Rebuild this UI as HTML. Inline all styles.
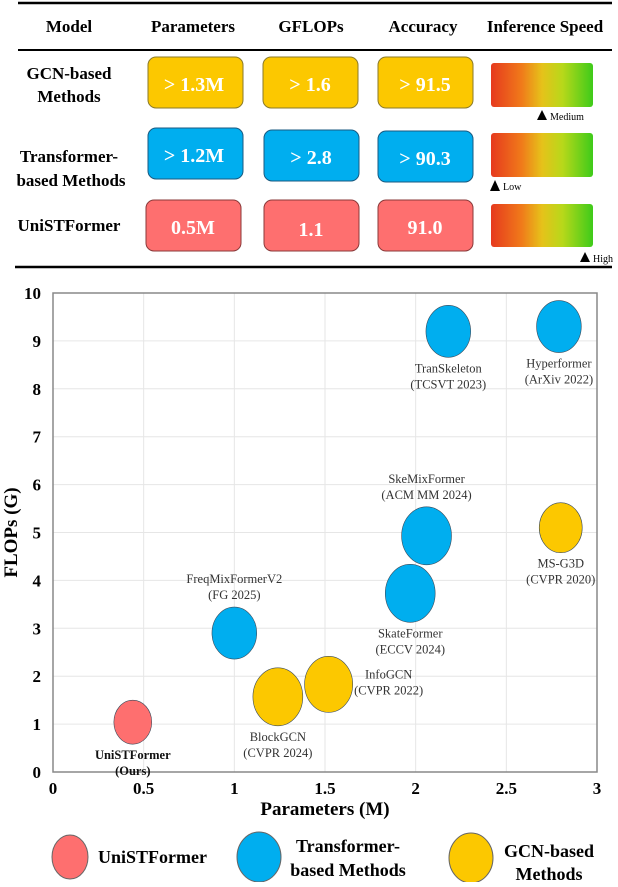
<!DOCTYPE html>
<html><head><meta charset="utf-8"><style>
body{margin:0;background:#fff;}
svg text{font-family:"Liberation Serif",serif;}
</style></head><body>
<svg width="618" height="882" viewBox="0 0 618 882" xmlns="http://www.w3.org/2000/svg">
<defs>
<linearGradient id="sg" x1="0" x2="1" y1="0" y2="0">
<stop offset="0" stop-color="#e63a1e"/><stop offset="0.3" stop-color="#f07a1a"/><stop offset="0.5" stop-color="#e6c21a"/><stop offset="0.7" stop-color="#b8d81a"/><stop offset="1" stop-color="#3ecb1a"/>
</linearGradient>
</defs>
<g>
<line x1="18" y1="3" x2="612" y2="3" stroke="#000" stroke-width="2.5"/>
<line x1="18" y1="50" x2="612" y2="50" stroke="#000" stroke-width="2"/>
<line x1="15" y1="267" x2="612" y2="267" stroke="#000" stroke-width="2.5"/>
<g font-weight="bold" font-size="17" text-anchor="middle">
<text x="69" y="32">Model</text><text x="193" y="32">Parameters</text><text x="311" y="32">GFLOPs</text><text x="423" y="32">Accuracy</text><text x="545" y="32">Inference Speed</text>
</g>
<g font-weight="bold" font-size="17" text-anchor="middle">
<text x="69" y="79">GCN-based</text><text x="69" y="102">Methods</text>
<text x="69" y="162">Transformer-</text><text x="71" y="186">based Methods</text>
<text x="69" y="231">UniSTFormer</text>
</g>
<g font-weight="bold" font-size="20" fill="#fff" text-anchor="middle">
<rect x="148" y="57" width="95" height="51" rx="8" fill="#fcc800" stroke="#8a7a2a"/><text x="194" y="91">&gt; 1.3M</text>
<rect x="263" y="57" width="95" height="51" rx="8" fill="#fcc800" stroke="#8a7a2a"/><text x="310" y="91">&gt; 1.6</text>
<rect x="378" y="57" width="95" height="51" rx="8" fill="#fcc800" stroke="#8a7a2a"/><text x="425" y="91">&gt; 91.5</text>
<rect x="148" y="128" width="95" height="51" rx="8" fill="#00aeef" stroke="#1a5a80"/><text x="194" y="162">&gt; 1.2M</text>
<rect x="264" y="130" width="95" height="51" rx="8" fill="#00aeef" stroke="#1a5a80"/><text x="311" y="164">&gt; 2.8</text>
<rect x="378" y="131" width="95" height="51" rx="8" fill="#00aeef" stroke="#1a5a80"/><text x="425" y="165">&gt; 90.3</text>
<rect x="146" y="200" width="95" height="51" rx="8" fill="#fe6f6f" stroke="#8a3a3a"/><text x="193" y="234">0.5M</text>
<rect x="264" y="200" width="95" height="51" rx="8" fill="#fe6f6f" stroke="#8a3a3a"/><text x="311" y="236">1.1</text>
<rect x="378" y="200" width="95" height="51" rx="8" fill="#fe6f6f" stroke="#8a3a3a"/><text x="425" y="234">91.0</text>
</g>
<g>
<rect x="491" y="63" width="102" height="44" rx="3" fill="url(#sg)"/>
<rect x="491" y="133" width="102" height="44" rx="3" fill="url(#sg)"/>
<rect x="491" y="204" width="102" height="43" rx="3" fill="url(#sg)"/>
<polygon points="542,110 537,120 547,120"/><text x="550" y="120" font-size="10">Medium</text>
<polygon points="495,180 490,191 500,191"/><text x="503" y="190" font-size="10">Low</text>
<polygon points="585,252 580,262 590,262"/><text x="593" y="262" font-size="10">High</text>
</g>
</g>
<g id="chart"></g>
<g font-weight="bold" font-size="18">
<ellipse cx="70" cy="857" rx="18" ry="22" fill="#fe6f6f" stroke="#666"/>
<text x="98" y="863">UniSTFormer</text>
<ellipse cx="259" cy="857" rx="22" ry="25" fill="#00aeef" stroke="#666"/>
<text x="348" y="852" text-anchor="middle">Transformer-<tspan x="348" dy="24">based Methods</tspan></text>
<ellipse cx="471" cy="858" rx="22" ry="25" fill="#fcc800" stroke="#666"/>
<text x="549" y="857" text-anchor="middle">GCN-based<tspan x="549" dy="23">Methods</tspan></text>
</g>
</svg>
<script>
const names=["UniSTFormer","FreqMixFormerV2","BlockGCN","InfoGCN","SkateFormer","SkeMixFormer","TranSkeleton","Hyperformer","MS-G3D"];
const venues=["(Ours)","(FG 2025)","(CVPR 2024)","(CVPR 2022)","(ECCV 2024)","(ACM MM 2024)","(TCSVT 2023)","(ArXiv 2022)","(CVPR 2020)"];
const params=[0.44,1.0,1.24,1.52,1.97,2.06,2.18,2.79,2.80];
const flops=[1.04,2.9,1.57,1.83,3.73,4.93,9.2,9.3,5.1];
const sizes=[22,26,29,28,29,29,26,26,25];
const groups=["ours","tr","gcn","gcn","tr","tr","tr","tr","gcn"];
const xTicks=["0","0.5","1","1.5","2","2.5","3"];
const yTicks=["0","1","2","3","4","5","6","7","8","9","10"];
const X0=53,X1=597,Y0=772,Y1=293;
const xs=v=>X0+v/3*(X1-X0), ys=v=>Y0-v/10*(Y0-Y1);
const colors={ours:"#fe6f6f",tr:"#00aeef",gcn:"#fcc800"};
const labelDx=[0,0,0,60,0,0,0,0,0];
const labelDy=[1,-1,1,-1,1,-1,1,1,1];
const NS="http://www.w3.org/2000/svg";
const g=document.getElementById('chart');
function mk(t,a,p){const e=document.createElementNS(NS,t);for(const k in a)e.setAttribute(k,a[k]);(p||g).appendChild(e);return e;}
yTicks.forEach((t,i)=>{const y=ys(+t);
 const l=mk('line',{x1:X0,x2:X1,y1:y,y2:y,stroke:'#e6e6e6'});
 
 const tx=mk('text',{x:X0-12,y:y+6,'text-anchor':'end','font-size':17,'font-weight':'bold'});tx.textContent=t;
 });
xTicks.forEach((t,i)=>{const x=xs(+t);
 const l=mk('line',{x1:x,x2:x,y1:Y1,y2:Y0,stroke:'#e6e6e6'});
 
 const tx=mk('text',{x:x,y:Y0+22,'text-anchor':'middle','font-size':17,'font-weight':'bold'});tx.textContent=t;
 });
const fr=mk('rect',{x:X0,y:Y1,width:X1-X0,height:Y0-Y1,fill:'none',stroke:'#888','stroke-width':1.5});

const xt=mk('text',{x:(X0+X1)/2,y:Y0+43,'text-anchor':'middle','font-size':19,'font-weight':'bold'});xt.textContent='Parameters (M)';

const yt=mk('text',{x:0,y:0,'text-anchor':'middle','font-size':19,'font-weight':'bold',transform:`translate(17,${(Y0+Y1)/2}) rotate(-90)`});yt.textContent='FLOPs (G)';

names.forEach((n,i)=>{const cx=xs(params[i]),cy=ys(flops[i]),r=sizes[i];
 const e=mk('ellipse',{cx:cx,cy:cy,rx:r*0.86,ry:r,fill:colors[groups[i]],stroke:'#3a4a5a','stroke-width':0.6});
 
 
 let ly;const lx=cx+labelDx[i];
 if(labelDx[i]){ly=cy-6;} else if(labelDy[i]>0){ly=cy+r+15;} else {ly=cy-r-24;}
 const t=mk('text',{x:lx,y:ly,'text-anchor':'middle','font-size':12.5,fill:i==0?'#111':'#333','font-weight':i==0?'bold':'normal'});
 t.textContent=n;
 
 
 const t2=mk('text',{x:lx,y:ly+16,'text-anchor':'middle','font-size':12.5,fill:i==0?'#111':'#333','font-weight':i==0?'bold':'normal'});
 t2.textContent=venues[i];
 
 
});
</script>
</body></html>
